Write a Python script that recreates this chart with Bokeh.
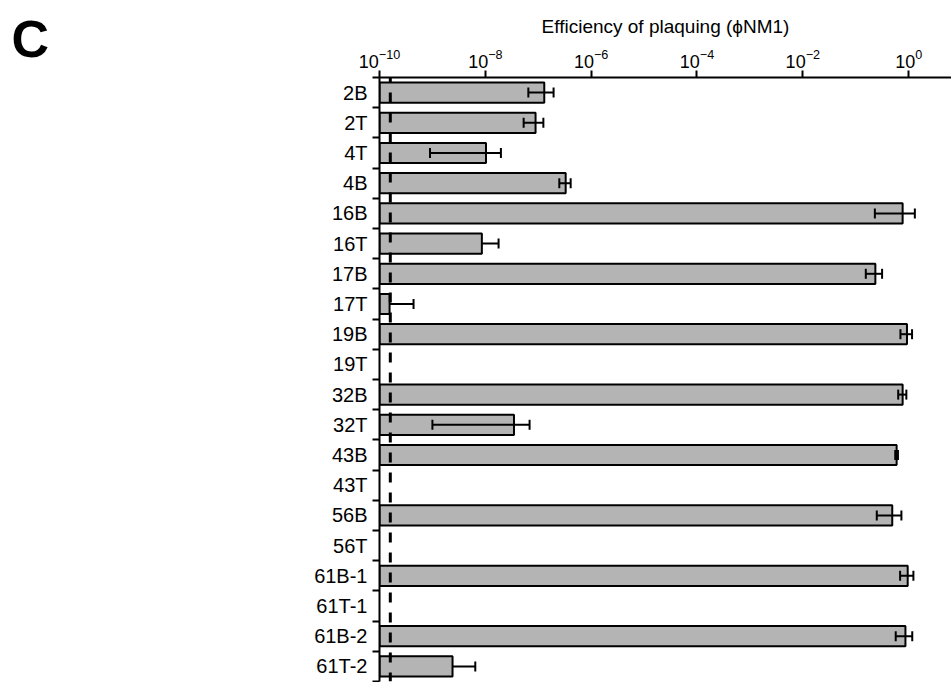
from bokeh.plotting import figure
from bokeh.layouts import row
from bokeh.models import (ColumnDataSource, FixedTicker, Whisker, TeeHead, Span,
                          Range1d, LinearAxis)
from bokeh.embed import file_html
from bokeh.resources import INLINE

# ---- data ----
categories = ["2B", "2T", "4T", "4B", "16B", "16T", "17B", "17T", "19B", "19T",
              "32B", "32T", "43B", "43T", "56B", "56T", "61B-1", "61T-1", "61B-2", "61T-2"]
eop_mean = [1.3e-7, 8.9e-8, 1.03e-8, 3.3e-7, 0.77, 8.6e-9, 0.235, 1.55e-10, 0.93, 0,
            0.77, 3.48e-8, 0.593, 0, 0.49, 0, 0.96, 0, 0.87, 2.4e-9]
eop_sd = [6.5e-8, 3.6e-8, 9.4e-9, 8.0e-8, 0.54, 9.2e-9, 0.08, 2.85e-10, 0.23, 0,
          0.135, 3.38e-8, 0.035, 0, 0.24, 0, 0.27, 0, 0.30, 4.06e-9]
detection_limit = 1.6e-10
axis_floor = 1e-10
x_ticks = [1e-10, 1e-8, 1e-6, 1e-4, 1e-2, 1]

FONT = "Liberation Sans"
PANEL_W = 70

idx = list(range(len(categories)))
bar_y = [i for i in idx if eop_mean[i] > 0]
bars = ColumnDataSource(dict(
    y=bar_y,
    right=[eop_mean[i] for i in bar_y],
    left=[axis_floor for _ in bar_y],
))

full_y = [i for i in bar_y if eop_mean[i] - eop_sd[i] > 0]
up_y = [i for i in bar_y if eop_mean[i] - eop_sd[i] <= 0]
full_src = ColumnDataSource(dict(
    y=full_y,
    lower=[eop_mean[i] - eop_sd[i] for i in full_y],
    upper=[eop_mean[i] + eop_sd[i] for i in full_y],
))
up_src = ColumnDataSource(dict(
    y=up_y,
    lower=[eop_mean[i] for i in up_y],
    upper=[eop_mean[i] + eop_sd[i] for i in up_y],
))

p = figure(width=951 - PANEL_W, height=682, x_axis_type="log", x_axis_location="above",
           x_range=Range1d(1e-10, 10 ** 0.81),
           y_range=Range1d(len(categories) - 0.5, -0.5),
           output_backend="svg", toolbar_location=None,
           min_border_left=379 - PANEL_W, min_border_top=77, min_border_right=0,
           min_border_bottom=1, y_axis_type=None)
p.outline_line_color = None
p.xgrid.grid_line_color = None
p.ygrid.grid_line_color = None
p.background_fill_color = "white"
p.border_fill_color = "white"

p.hbar(y="y", left="left", right="right", height=0.67, source=bars,
       fill_color="#b4b4b4", line_color="black", line_width=2)

w1 = Whisker(source=full_src, base="y", lower="lower", upper="upper", dimension="width",
             line_color="black", line_width=2, level="overlay",
             lower_head=TeeHead(size=10, line_width=2, line_color="black"),
             upper_head=TeeHead(size=10, line_width=2, line_color="black"))
w2 = Whisker(source=up_src, base="y", lower="lower", upper="upper", dimension="width",
             line_color="black", line_width=2, level="overlay",
             lower_head=None,
             upper_head=TeeHead(size=10, line_width=2, line_color="black"))
p.add_layout(w1)
p.add_layout(w2)

p.add_layout(Span(location=detection_limit, dimension="height", line_color="black",
                  line_width=3, line_dash="10 10", line_dash_offset=5, level="overlay"))

# top (x) axis
xa = p.xaxis[0]
xa.ticker = FixedTicker(ticks=x_ticks, minor_ticks=[])
xa.axis_label = "Efficiency of plaquing (\u03d5NM1)"
xa.axis_label_text_font = FONT
xa.axis_label_text_font_size = "19px"
xa.axis_label_text_font_style = "normal"
xa.axis_label_text_color = "black"
xa.axis_label_standoff = 9
xa.major_label_text_font = FONT
xa.major_label_text_font_size = "18px"
xa.major_label_text_color = "black"
xa.major_label_standoff = 3
xa.axis_line_width = 2
xa.major_tick_line_width = 2
xa.major_tick_out = 7
xa.major_tick_in = 0
xa.minor_tick_line_color = None

# left (category) axis
ya = LinearAxis(ticker=FixedTicker(ticks=idx, minor_ticks=[i + 0.5 for i in range(-1, len(categories))]),
                major_label_overrides={i: c for i, c in zip(idx, categories)})
ya.major_label_text_font = FONT
ya.major_label_text_font_size = "20px"
ya.major_label_text_color = "black"
ya.major_tick_out = 0
ya.major_tick_in = 0
ya.major_label_standoff = 5
ya.minor_tick_out = 7
ya.minor_tick_in = 0
ya.minor_tick_line_width = 2
ya.axis_line_width = 2
p.add_layout(ya, "left")

# panel letter as the title of a small side figure
c = figure(width=PANEL_W, height=682, x_range=Range1d(0, 1), y_range=Range1d(0, 1),
           output_backend="svg", toolbar_location=None,
           min_border_left=0, min_border_right=0, min_border_top=77, min_border_bottom=1,
           x_axis_type=None, y_axis_type=None)
c.outline_line_color = None
c.xgrid.grid_line_color = None
c.ygrid.grid_line_color = None
c.title.text = "C"
c.title.text_font = FONT
c.title.text_font_size = "52px"
c.title.text_font_style = "bold"
c.title.text_color = "black"
c.title.vertical_align = "top"
c.title.align = "left"
c.title.offset = 11
c.title.standoff = 16

layout = row(c, p, spacing=0)
open("out.html", "w").write(file_html(layout, INLINE))
